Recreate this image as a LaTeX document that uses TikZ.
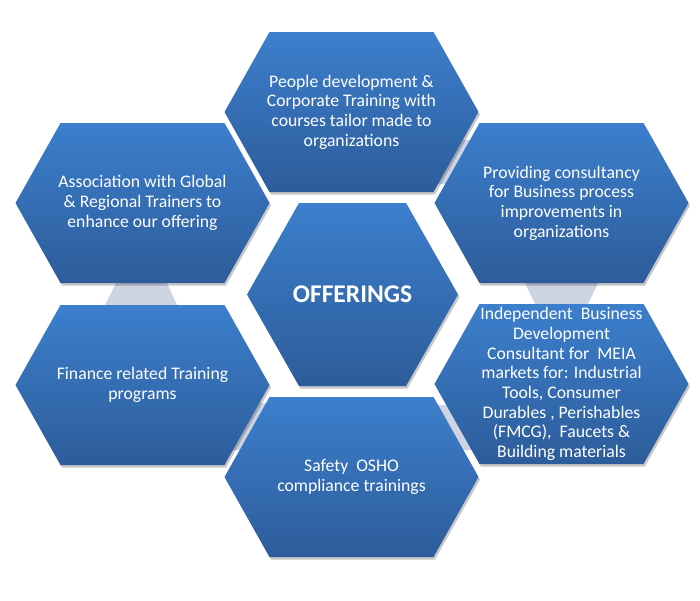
\documentclass[tikz,border=0pt]{standalone}
\usepackage{fontspec}
\setmainfont{Carlito}
\definecolor{hextop}{RGB}{60,127,205}
\definecolor{hexbot}{RGB}{45,92,154}
\definecolor{linkgrey}{RGB}{205,213,228}
\tikzset{
  hextext/.style={text=white, align=center, inner sep=0pt,
    font=\fontsize{17.7}{19.7}\selectfont},
  centertext/.style={text=white, align=center, inner sep=0pt,
    font=\fontsize{25.5}{28}\selectfont\bfseries},
  hexfill/.style={top color=hextop, bottom color=hexbot},
  hexshadow/.style={fill=black, opacity=0.22},
  linkfill/.style={fill=linkgrey}
}
% #1 cx, #2 cy, #3 half width, #4 half height, #5 inset
\newcommand{\drawhexagon}[5]{%
  \fill[hexshadow, shift={(1.5,2.5)}] (#1-#3,#2) -- (#1-#3+#5,#2-#4) -- (#1+#3-#5,#2-#4) -- (#1+#3,#2) -- (#1+#3-#5,#2+#4) -- (#1-#3+#5,#2+#4) -- cycle;
  \shade[hexfill] (#1-#3,#2) -- (#1-#3+#5,#2-#4) -- (#1+#3-#5,#2-#4) -- (#1+#3,#2) -- (#1+#3-#5,#2+#4) -- (#1-#3+#5,#2+#4) -- cycle;
}
\begin{document}
\begin{tikzpicture}[x=1pt, y=-1pt]
\useasboundingbox (0,0) rectangle (700,600);
\fill[white] (0,0) rectangle (700,600);

% grey links (drawn under the hexagons)
\fill[linkfill] (117.5,280) -- (165.5,280) -- (178.5,308) -- (103.5,308) -- cycle;
\fill[linkfill] (523.5,280) -- (599.5,280) -- (586,308) -- (537,308) -- cycle;
\fill[linkfill] (457,140) -- (476,140) -- (451,184) -- (432,184) -- cycle;
\fill[linkfill] (255,403) -- (272,403) -- (245,450) -- (228,450) -- cycle;
\fill[linkfill] (432,405) -- (452,405) -- (477,450) -- (458,450) -- cycle;

% hexagons
\drawhexagon{351.5}{112}{127}{80}{45}
\drawhexagon{561.5}{203}{127}{80}{45}
\drawhexagon{142.5}{203}{127}{80}{45}
\drawhexagon{142.5}{385}{127}{80}{45}
\drawhexagon{561.5}{384}{127}{80}{45}
\drawhexagon{351.5}{477}{127}{80}{45}
\drawhexagon{352.5}{294.5}{105.5}{91.5}{52}

% texts
\node[hextext] (people) at (351.5,112) {People development \&\\Corporate Training with\\courses tailor made to\\organizations};
\node[hextext] (consult) at (561.5,203) {Providing consultancy\\for Business process\\improvements in\\organizations};
\node[hextext] (assoc) at (142.5,203) {Association with Global\\\& Regional Trainers to\\enhance our offering};
\node[hextext] (finance) at (142.5,385) {Finance related Training\\programs};
\node[hextext] (indep) at (561.5,384) {Independent~ Business\\Development\\Consultant for~ MEIA\\markets for: Industrial\\Tools, Consumer\\Durables , Perishables\\(FMCG),~ Faucets \&\\Building materials};
\node[hextext] (safety) at (351.5,477) {Safety~ OSHO\\compliance trainings};
\node[centertext] (offer) at (352.5,294) {OFFERINGS};
\end{tikzpicture}
\end{document}
